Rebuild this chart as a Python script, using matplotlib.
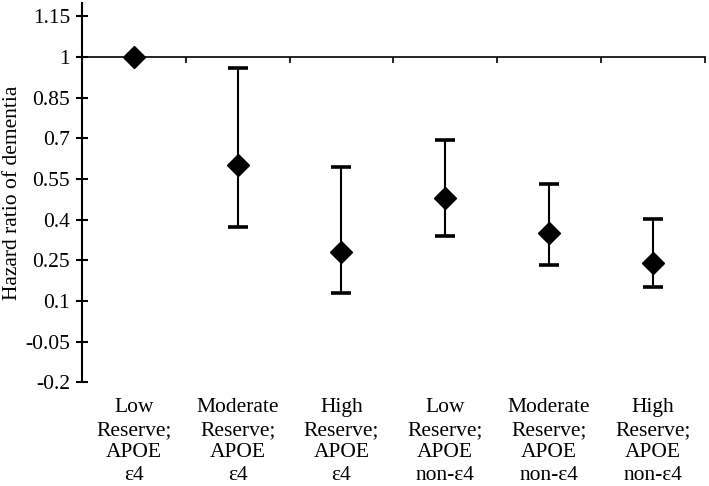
import matplotlib
matplotlib.use("Agg")
import matplotlib.pyplot as plt
import matplotlib.transforms as mtransforms
import numpy as np

# ======================================================================================================================
# Data
categories = ["Low\nReserve;\nAPOE\nε4", "Moderate\nReserve;\nAPOE\nε4", "High\nReserve;\nAPOE\nε4",
              "Low\nReserve;\nAPOE\nnon-ε4", "Moderate\nReserve;\nAPOE\nnon-ε4", "High\nReserve;\nAPOE\nnon-ε4"]
hazard_ratio = [1.0, 0.60, 0.28, 0.48, 0.352, 0.24]
ci_lower = [1.0, 0.371, 0.131, 0.341, 0.232, 0.151]
ci_upper = [1.0, 0.96, 0.593, 0.693, 0.533, 0.403]
y_ticks = [-0.2, -0.05, 0.1, 0.25, 0.4, 0.55, 0.7, 0.85, 1, 1.15]
y_tick_labels = ["-0.2", "-0.05", "0.1", "0.25", "0.4", "0.55", "0.7", "0.85", "1", "1.15"]
# ======================================================================================================================

plt.rcParams['font.family'] = ['Liberation Serif', 'DejaVu Serif']

fig = plt.figure(figsize=(7.09, 4.86), dpi=100)
ax = fig.add_axes([0.1157, 0.2134, 0.878, 0.781])

x = np.arange(1, len(categories) + 1)
hr = np.array(hazard_ratio)
yerr = np.vstack([hr - np.array(ci_lower), np.array(ci_upper) - hr])

# error bars only where there is an interval
has_ci = yerr.sum(axis=0) > 0
ax.errorbar(x[has_ci], hr[has_ci], yerr=yerr[:, has_ci], fmt='none', ecolor='black',
            elinewidth=1.5, capsize=7, capthick=2.6, zorder=2)
ax.plot(x, hr, linestyle='none', marker='D', markersize=11, color='black', zorder=3)

ax.set_xlim(0.5, len(categories) + 0.5)
ax.set_ylim(-0.2, 1.2)
ax.set_yticks(y_ticks)
ax.set_yticklabels(y_tick_labels, fontsize=15.5)
ax.tick_params(axis='y', direction='inout', length=9, width=1.5, pad=4)

# category axis crosses at 1
ax.spines['bottom'].set_position(('data', 1))
ax.spines['top'].set_visible(False)
ax.spines['right'].set_visible(False)
ax.spines['left'].set_linewidth(1.5)
ax.spines['bottom'].set_linewidth(1.2)
ax.set_xticks(np.arange(0.5, len(categories) + 1, 1))
ax.set_xticklabels([])
ax.tick_params(axis='x', direction='out', length=4, width=1.2)

trans = mtransforms.blended_transform_factory(ax.transData, ax.transAxes)
for xi, lab in zip(x, categories):
    ax.text(xi, -0.042, lab, transform=trans, ha='center', va='top', fontsize=15.5, linespacing=1.25)

ax.set_ylabel('Hazard ratio of dementia', fontsize=15.5)
ax.yaxis.set_label_coords(-0.097, 0.5)

fig.savefig('out.png', dpi=100)
